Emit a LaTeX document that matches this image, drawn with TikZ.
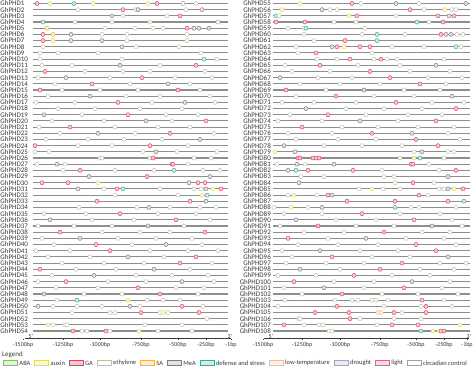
\documentclass[tikz,border=0pt]{standalone}
\usepackage{fontspec}
\setmainfont{Carlito}
\usetikzlibrary{positioning}
\definecolor{c-a}{HTML}{7CC457}
\definecolor{c-x}{HTML}{E8DA5A}
\definecolor{c-g}{HTML}{E0405A}
\definecolor{c-e}{HTML}{BCC0A4}
\definecolor{c-s}{HTML}{F0B048}
\definecolor{c-m}{HTML}{7A7A90}
\definecolor{c-d}{HTML}{3AA898}
\definecolor{c-t}{HTML}{F2C0A0}
\definecolor{c-r}{HTML}{A0A6C2}
\definecolor{c-l}{HTML}{E4608A}
\definecolor{c-c}{HTML}{A0A0A0}
\colorlet{f-a}{c-a!22!white}
\colorlet{f-x}{c-x!22!white}
\colorlet{f-g}{c-g!28!white}
\colorlet{f-e}{white}
\colorlet{f-s}{c-s!22!white}
\colorlet{f-m}{c-m!22!white}
\colorlet{f-d}{c-d!22!white}
\colorlet{f-t}{c-t!22!white}
\colorlet{f-r}{c-r!22!white}
\colorlet{f-l}{c-l!22!white}
\colorlet{f-c}{white}
\definecolor{lineg}{HTML}{8E8E8E}
\definecolor{txtg}{HTML}{3A3A3A}
\tikzset{
  lbl/.style={inner sep=0pt, font=\fontsize{7}{8}\selectfont, text=txtg},
  gline/.style={draw=lineg, line width=1.1pt},
  mk/.style={circle, inner sep=0pt, minimum size=4.1pt, line width=0.45pt, draw=c-#1, fill=f-#1},
  axl/.style={draw=txtg, line width=0.4pt},
  tk/.style={inner sep=0pt, font=\fontsize{6}{7}\selectfont, text=txtg},
  sw/.style={rectangle, inner sep=0pt, minimum width=14pt, minimum height=4.5pt, line width=0.8pt, draw=c-#1, fill=f-#1},
  lg/.style={inner sep=0pt, font=\fontsize{6.5}{7.5}\selectfont, text=txtg}
}
\newcommand\rowL[2]{%
  \pgfmathsetmacro\yy{3.5+(#1-1)*6.18}%
  \node[lbl,anchor=west] (lab#1) at (0.3,\yy) {GhPHD#1};
  \coordinate (a#1) at (33,\yy); \coordinate (b#1) at (228,\yy);
  \draw[gline] (a#1) -- (b#1);
  \foreach \px/\tp [count=\k] in {#2} {\node[mk=\tp] (m#1-\k) at (\px,\yy) {};}
}
\newcommand\rowR[2]{%
  \pgfmathsetmacro\yy{3.5+(#1-55)*6.18}%
  \node[lbl,anchor=east] (lab#1) at (271,\yy) {GhPHD#1};
  \coordinate (a#1) at (273,\yy); \coordinate (b#1) at (470,\yy);
  \draw[gline] (a#1) -- (b#1);
  \foreach \px/\tp [count=\k] in {#2} {\node[mk=\tp] (m#1-\k) at (\px,\yy) {};}
}
\begin{document}
\begin{tikzpicture}[x=1pt,y=-1pt]
\useasboundingbox[fill=white] (0,0) rectangle (474,367);
% left panel
\rowL{1}{37/g,50/x,74/d,93/x,148/x,157/g,183/c,196/e}
\rowL{2}{78/e,123/g,136/e,138/m,186/e,202/l}
\rowL{3}{112/m,123/e,167/e,180/g}
\rowL{4}{43/d,75/e,112/e,150/t,218/c}
\rowL{5}{47/s,105/e,135/e,153/e,163/e,187/g,194/m,199/m,209/m}
\rowL{6}{43/g,53/s,71/m,102/e,127/e,187/e}
\rowL{7}{43/g,53/x,71/m,102/m,127/e,187/e}
\rowL{8}{43/e,122/m,136/e,179/e}
\rowL{9}{40/e,58/e,98/e,201/e}
\rowL{10}{40/e,122/e,204/d,217/e}
\rowL{11}{42/e,72/e,120/m,160/e,196/g}
\rowL{12}{45/g,85/e,123/e,150/e,205/e}
\rowL{13}{38/e,66/m,110/e,142/g,175/e,212/e}
\rowL{14}{55/e,92/g,130/e,168/m,190/e}
\rowL{15}{40/g,62/e,100/e,138/e,178/g,200/e}
\rowL{16}{48/e,90/m,126/e,160/e,210/e}
\rowL{17}{36/e,75/e,118/g,152/e,185/m,215/e}
\rowL{18}{58/e,95/e,140/e,182/e}
\rowL{19}{44/m,82/e,128/g,166/e,198/e}
\rowL{20}{52/e,104/e,146/m,172/e,206/g}
\rowL{21}{39/e,70/g,115/e,158/e,190/e}
\rowL{22}{60/e,98/m,135/e,170/g,214/e}
\rowL{23}{46/e,88/e,124/e,162/e,200/m}
\rowL{24}{35/g,78/e,112/e,150/g,188/e}
\rowL{25}{35/e,49/e,143/e,156/m,177/e,217/e}
\rowL{26}{100/e,102/e,150/e,153/g,194/e,211/e}
\rowL{27}{37/e,57/m,65/e,172/g,173/g,188/e}
\rowL{28}{63/e,80/g,115/e,154/e,174/d,203/e,220/e}
\rowL{29}{89/m,147/g,210/m}
\rowL{30}{42/g,68/g,98/x,189/m,198/g,205/g}
\rowL{31}{78/m,104/e,117/g,123/d,160/e,194/e,201/e,206/m,213/x,221/g}
\rowL{32}{115/e,178/e,202/x,207/d}
\rowL{33}{97/g,190/g,206/m}
\rowL{34}{79/e,137/e,149/m,170/e,200/e,216/e}
\rowL{35}{44/e,86/e,120/g,158/e,196/e}
\rowL{36}{50/m,92/e,134/e,176/g,210/e}
\rowL{37}{38/e,74/e,112/e,148/m,184/e}
\rowL{38}{60/g,102/e,140/e,170/e,205/g}
\rowL{39}{42/e,80/m,118/e,156/e,192/e}
\rowL{40}{54/e,96/g,132/e,166/m,202/e}
\rowL{41}{36/e,70/e,110/g,150/e,188/e,218/e}
\rowL{42}{48/e,90/e,128/m,164/e,196/g}
\rowL{43}{62/e,104/e,144/e,180/g,212/e}
\rowL{44}{40/g,76/e,116/e,154/m,190/e}
\rowL{45}{52/e,94/m,136/e,172/e,208/e}
\rowL{46}{38/e,66/g,108/e,146/e,182/m,214/e}
\rowL{47}{56/e,98/e,138/g,176/e,204/e}
\rowL{48}{44/m,84/e,122/e,160/g,198/e}
\rowL{49}{57/e,77/d,128/x,147/e,163/e,180/e}
\rowL{50}{38/m,53/e,77/e,102/e,130/m,140/e,182/g,203/e}
\rowL{51}{72/e,110/e,115/e,141/g,160/e,163/x,168/e,199/g}
\rowL{52}{207/e}
\rowL{53}{48/x,53/e,65/e,67/e,145/e,182/e}
\rowL{54}{73/g,82/e,87/e,106/g,110/e,139/x,158/e,192/e}
% right panel
\rowR{55}{300/x,352/g,361/e,396/m,419/e,466/m}
\rowR{56}{282/x,322/m,330/e,337/e,410/g,424/e,445/x,452/e,456/e}
\rowR{57}{276/d,279/e,349/x,357/g,396/e,438/g,449/m,454/g}
\rowR{58}{276/g,305/g,334/e,356/e,417/d,429/e,443/g}
\rowR{59}{288/e,304/e,306/d,365/e}
\rowR{60}{304/e,362/e,377/d,405/e,441/g,446/m,451/m,457/e,463/e}
\rowR{61}{314/e,345/g,377/d}
\rowR{62}{296/e,332/m,337/g,344/x,360/g,370/g,392/e,424/e,456/d,461/e}
\rowR{63}{298/e,316/g,372/e}
\rowR{64}{317/e,337/e,350/g,374/e,381/g,387/e,397/e,444/e}
\rowR{65}{285/e,320/g,358/e,400/e,436/m}
\rowR{66}{292/e,330/e,370/g,410/e,450/e}
\rowR{67}{280/m,318/e,352/e,390/g,428/e,462/e}
\rowR{68}{300/e,340/e,380/e,420/g,446/e}
\rowR{69}{286/g,326/e,364/m,404/e,440/e}
\rowR{70}{296/e,336/g,374/e,414/e,452/m}
\rowR{71}{282/e,314/e,356/e,396/g,432/e,464/e}
\rowR{72}{306/m,346/e,384/e,422/e,456/g}
\rowR{73}{290/e,328/g,366/e,408/e,442/e}
\rowR{74}{278/e,322/e,360/m,398/e,436/g}
\rowR{75}{302/g,342/e,378/e,418/e,454/e}
\rowR{76}{288/e,332/e,372/g,412/m,448/e}
\rowR{77}{296/e,338/e,376/e,416/g,460/e}
\rowR{78}{284/m,324/e,362/e,402/e,438/g}
\rowR{79}{275/x,295/m,414/e,422/m,448/e,454/e}
\rowR{80}{298/g,300/g,313/g,316/g,319/g,400/e,414/x,420/d,444/e}
\rowR{81}{277/e,297/m,305/e,334/m,411/g,413/g,429/e}
\rowR{82}{288/m,296/d,308/g,353/g,382/e,439/e,456/g}
\rowR{83}{301/e,324/e,384/e,394/e,448/m}
\rowR{84}{299/m,395/e,413/g,434/e}
\rowR{85}{359/e,372/x,383/e,400/e,439/e,444/e,448/m,454/x,463/g}
\rowR{86}{288/e,294/x,317/e,328/g,332/m,419/g,428/e}
\rowR{87}{347/g,395/g,448/g,464/d}
\rowR{88}{274/e,291/x,308/e,322/m,395/d,411/e,419/e,456/e}
\rowR{89}{284/e,322/e,362/g,400/e,440/e}
\rowR{90}{296/m,336/e,376/e,414/g,452/e}
\rowR{91}{280/e,318/g,356/e,394/e,432/m,462/e}
\rowR{92}{304/e,344/e,384/g,422/e,450/e}
\rowR{93}{288/g,328/e,366/m,406/e,444/e}
\rowR{94}{298/e,338/e,378/e,416/g,456/e}
\rowR{95}{282/e,320/m,360/e,398/e,436/g}
\rowR{96}{292/e,332/g,372/e,410/e,448/m}
\rowR{97}{286/e,326/e,364/e,402/g,440/e,466/e}
\rowR{98}{300/m,340/e,380/g,420/e,454/e}
\rowR{99}{278/e,316/e,354/g,392/e,430/e}
\rowR{100}{294/g,334/e,374/e,412/m,450/e}
\rowR{101}{284/e,324/m,364/e,404/g,442/e}
\rowR{102}{302/e,342/g,382/e,418/e,458/e}
\rowR{103}{285/e,335/e,352/e,358/e,372/e,376/e,388/e,422/g,444/e}
\rowR{104}{278/e,337/g,384/e,421/e,426/g,452/e}
\rowR{105}{315/g,349/g,378/t,381/t,394/g,402/e,426/g}
\rowR{106}{299/e,300/e,350/g,360/e,394/e,421/e}
\rowR{107}{284/g,304/e,319/e,323/e,377/e,392/g,418/g,460/x}
\rowR{108}{329/e,332/e,421/d,433/x,439/x,441/g,444/g}
% axes
\coordinate (axl1) at (25,338.5); \coordinate (axl2) at (231,338.5);
\draw[axl] (axl1) -- (axl2);
\node[tk] (p5l) at (31,336) {5'};
\node[tk] (p3l) at (230,336) {3'};
\foreach \xx/\tt [count=\k] in {23/-1500bp,63/-1250bp,100/-1000bp,141/-750bp,178/-500bp,206/-250bp,231/-1bp}{
  \node[tk] (tl\k) at (\xx,344.5) {\tt};
  \draw[axl] (\xx,338.5) -- (\xx,340);
}
\coordinate (axr1) at (264,338.5); \coordinate (axr2) at (469,338.5);
\draw[axl] (axr1) -- (axr2);
\node[tk] (p5r) at (271,336) {5'};
\node[tk] (p3r) at (469,336) {3'};
\foreach \xx/\tt [count=\k] in {263/-1500bp,302/-1250bp,340/-1000bp,380/-750bp,416/-500bp,444/-250bp,467/-1bp}{
  \node[tk] (tr\k) at (\xx,344.5) {\tt};
  \draw[axl] (\xx,338.5) -- (\xx,340);
}
% legend
\node[lg,anchor=west,font=\fontsize{7}{8}\selectfont] (leg) at (2,355) {Legend};
\node[sw=a,anchor=west] (s1) at (3,363) {};
\node[lg,right=1.5pt of s1] (t1) {ABA};
\node[sw=x,right=3.5pt of t1] (s2) {};
\node[lg,right=1.5pt of s2] (t2) {auxin};
\node[sw=g,right=3.5pt of t2] (s3) {};
\node[lg,right=1.5pt of s3] (t3) {GA};
\node[sw=e,right=3.5pt of t3] (s4) {};
\node[lg,right=1.5pt of s4] (t4) {ethylene};
\node[sw=s,right=3.5pt of t4] (s5) {};
\node[lg,right=1.5pt of s5] (t5) {SA};
\node[sw=m,right=3.5pt of t5] (s6) {};
\node[lg,right=1.5pt of s6] (t6) {MeA};
\node[sw=d,right=3.5pt of t6] (s7) {};
\node[lg,right=1.5pt of s7] (t7) {defense and stress};
\node[sw=t,right=3.5pt of t7] (s8) {};
\node[lg,right=1.5pt of s8] (t8) {low-temperature};
\node[sw=r,right=3.5pt of t8] (s9) {};
\node[lg,right=1.5pt of s9] (t9) {drought};
\node[sw=l,right=3.5pt of t9] (s10) {};
\node[lg,right=1.5pt of s10] (t10) {light};
\node[sw=c,right=3.5pt of t10] (s11) {};
\node[lg,right=1.5pt of s11] (t11) {circadian control};
\end{tikzpicture}
\end{document}
